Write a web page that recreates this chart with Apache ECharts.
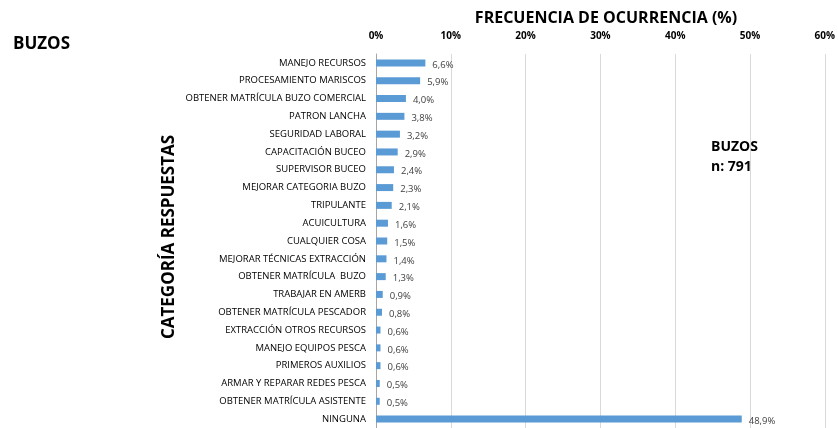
<!DOCTYPE html>
<html>
<head>
<meta charset="utf-8">
<script src="https://cdn.jsdelivr.net/npm/echarts@6/dist/echarts.min.js"></script>
<style>
  html, body { margin: 0; padding: 0; background: #fff; }
  #chart { width: 838px; height: 428px; }
</style>
</head>
<body>
<div id="chart"></div>
<script>
const categories = [
  'MANEJO RECURSOS',
  'PROCESAMIENTO MARISCOS',
  'OBTENER MATRÍCULA BUZO COMERCIAL',
  'PATRON LANCHA',
  'SEGURIDAD LABORAL',
  'CAPACITACIÓN BUCEO',
  'SUPERVISOR BUCEO',
  'MEJORAR CATEGORIA BUZO',
  'TRIPULANTE',
  'ACUICULTURA',
  'CUALQUIER COSA',
  'MEJORAR TÉCNICAS EXTRACCIÓN',
  'OBTENER MATRÍCULA  BUZO',
  'TRABAJAR EN AMERB',
  'OBTENER MATRÍCULA PESCADOR',
  'EXTRACCIÓN OTROS RECURSOS',
  'MANEJO EQUIPOS PESCA',
  'PRIMEROS AUXILIOS',
  'ARMAR Y REPARAR REDES PESCA',
  'OBTENER MATRÍCULA ASISTENTE',
  'NINGUNA'
]
const frecuencia = [6.6, 5.9, 4.0, 3.8, 3.2, 2.9, 2.4, 2.3, 2.1, 1.6, 1.5, 1.4, 1.3, 0.9, 0.8, 0.6, 0.6, 0.6, 0.5, 0.5, 48.9]
const xTicks = [0, 10, 20, 30, 40, 50, 60]

const font = '"Open Sans", "Noto Sans", sans-serif'
const chart = echarts.init(document.getElementById('chart'))

chart.setOption({
  backgroundColor: '#ffffff',
  animation: false,
  textStyle: { fontFamily: font, color: '#000' },
  title: [
    {
      text: 'FRECUENCIA DE OCURRENCIA (%)',
      left: 601, top: 5, textAlign: 'center',
      textStyle: { fontSize: 16, fontWeight: 'bold', color: '#000', fontFamily: font }
    },
    {
      text: 'BUZOS',
      left: 8, top: 31,
      textStyle: { fontSize: 17, fontWeight: 'bold', color: '#000', fontFamily: font }
    },
    {
      text: 'BUZOS\nn: 791',
      left: 706, top: 132,
      textStyle: { fontSize: 14, fontWeight: 'bold', color: '#000', lineHeight: 20, fontFamily: font }
    }
  ],
  graphic: [
    {
      type: 'text',
      x: 169, y: 237, rotation: Math.PI / 2,
      style: {
        text: 'CATEGORÍA RESPUESTAS',
        font: 'bold 17px ' + font,
        fill: '#000',
        align: 'center',
        verticalAlign: 'middle'
      }
    }
  ],
  grid: { left: 376, right: 11, top: 54, height: 378 },
  xAxis: {
    type: 'value',
    position: 'top',
    min: xTicks[0],
    max: xTicks[xTicks.length - 1],
    interval: 10,
    axisLine: { show: false },
    axisTick: { show: false },
    axisLabel: {
      formatter: v => v + '%',
      fontSize: 10, fontWeight: 'bold', color: '#000', margin: 13, fontFamily: font
    },
    splitLine: { lineStyle: { color: '#d9d9d9', width: 1 } }
  },
  yAxis: {
    type: 'category',
    inverse: true,
    data: categories,
    axisLine: { lineStyle: { color: '#a6a6a6' } },
    axisTick: { length: 4, lineStyle: { color: '#a6a6a6' } },
    axisLabel: { fontSize: 9.5, color: '#000', margin: 10, fontFamily: font }
  },
  series: [
    {
      type: 'bar',
      data: frecuencia,
      barWidth: 7,
      itemStyle: { color: '#5b9bd5' },
      label: {
        show: true,
        position: 'right',
        distance: 7,
        offset: [0, 2],
        fontSize: 9.5,
        color: '#404040',
        fontFamily: font,
        formatter: p => p.value.toFixed(1).replace('.', ',') + '%'
      }
    }
  ]
})
</script>
</body>
</html>
